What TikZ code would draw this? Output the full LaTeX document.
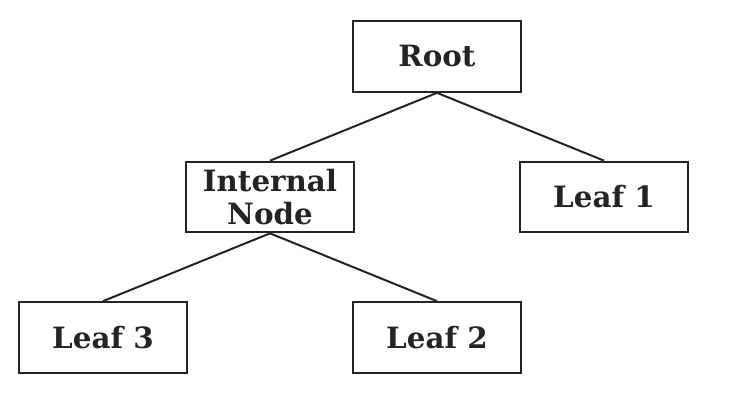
\documentclass[tikz,border=0pt]{standalone}
\usepackage{tikz}
\usepackage{fontspec}
\setmainfont{DejaVu Serif}

\definecolor{inkdark}{RGB}{40,35,35}

\tikzset{
  treebox/.style={draw=inkdark, line width=1.5pt, text=inkdark, rectangle,
    minimum width=126pt, minimum height=53pt, inner sep=0.75pt, align=center,
    font=\fontsize{22}{25}\selectfont\bfseries},
  treeedge/.style={draw=inkdark, line width=1.5pt}
}

\begin{document}
\begin{tikzpicture}[x=0.75pt,y=0.75pt,yscale=-1,xscale=1]
\useasboundingbox (0,0) rectangle (740,404); %set diagram size to 740 x 404

% Text Node
\node [treebox] (root) at (437,56.5) {Root};
% Text Node
\node [treebox] (internal) at (270,197) {Internal\\Node};
% Text Node
\node [treebox] (leafone) at (604,197) {Leaf 1};
% Text Node
\node [treebox] (leafthree) at (103,337.5) {Leaf 3};
% Text Node
\node [treebox] (leaftwo) at (437,337.5) {Leaf 2};

%Straight Lines
\draw [treeedge] (root.south) -- (internal.north) ;
\draw [treeedge] (root.south) -- (leafone.north) ;
\draw [treeedge] (internal.south) -- (leafthree.north) ;
\draw [treeedge] (internal.south) -- (leaftwo.north) ;

\end{tikzpicture}
\end{document}
